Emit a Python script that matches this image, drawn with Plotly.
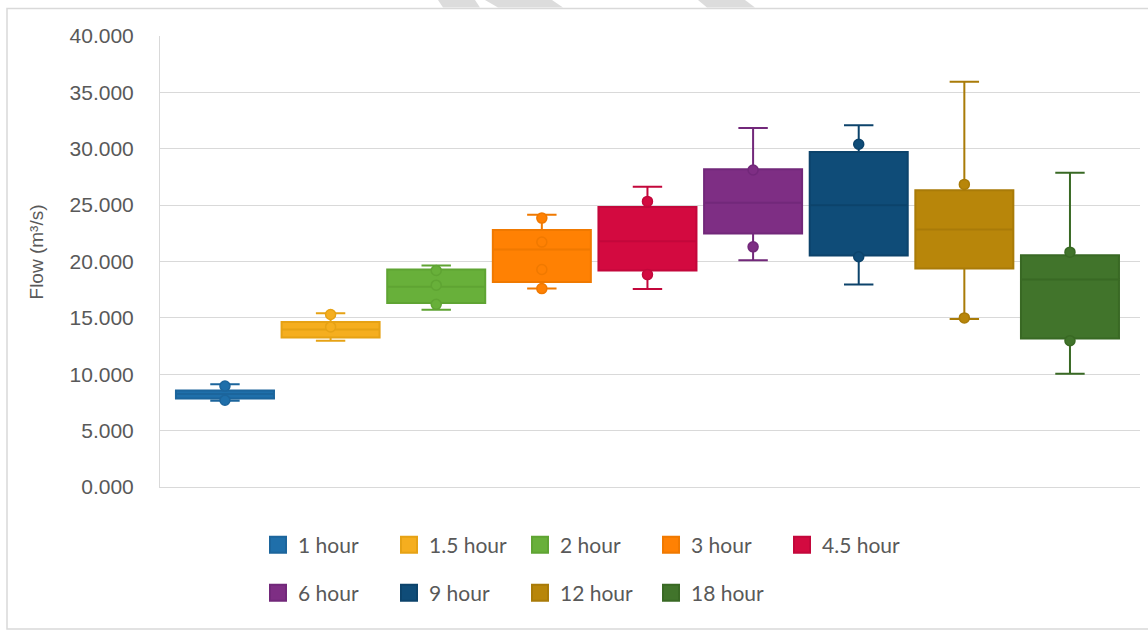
import plotly.graph_objects as go

# Flow statistics per storm duration
durations = ["1 hour", "1.5 hour", "2 hour", "3 hour", "4.5 hour",
             "6 hour", "9 hour", "12 hour", "18 hour"]
q1 =          [7.85, 13.27, 16.33, 18.19, 19.20, 22.49, 20.53, 19.38, 13.16]
median =      [8.25, 13.96, 17.75, 21.07, 21.80, 25.20, 25.00, 22.84, 18.40]
q3 =          [8.55, 14.64, 19.29, 22.79, 24.83, 28.18, 29.72, 26.31, 20.56]
lower_fence = [7.65, 12.98, 15.73, 17.60, 17.57, 20.12, 17.96, 14.90, 10.04]
upper_fence = [9.12, 15.41, 19.64, 24.15, 26.64, 31.85, 32.09, 35.94, 27.88]
inner_points = [
    [8.95, 7.70],
    [15.30, 14.20],
    [19.20, 17.90, 16.20],
    [23.85, 21.72, 19.29, 17.60],
    [25.33, 18.84],
    [28.12, 21.30],
    [30.40, 20.42],
    [26.84, 15.00],
    [20.83, 12.98],
]

fill_colors = ["#1F6FAA", "#F5AE1F", "#68B03A", "#FF8103", "#D30A40",
               "#7E2E84", "#0F4C78", "#B8860A", "#41742B"]
line_colors = ["#1C659C", "#E6A215", "#5FA433", "#F07900", "#C3073B",
               "#72287A", "#0C436B", "#A97B08", "#396924"]

fig = go.Figure()

for i, name in enumerate(durations):
    fig.add_trace(go.Box(
        x=[i], q1=[q1[i]], median=[median[i]], q3=[q3[i]],
        lowerfence=[lower_fence[i]], upperfence=[upper_fence[i]],
        name=name, legendgroup=name, showlegend=False,
        fillcolor=fill_colors[i],
        line=dict(color=line_colors[i], width=2),
        width=0.928, whiskerwidth=0.3,
        boxpoints=False, hoverinfo="y",
    ))
    fig.add_trace(go.Scatter(
        x=[i] * len(inner_points[i]), y=inner_points[i],
        mode="markers", legendgroup=name, showlegend=False,
        marker=dict(size=10, color=fill_colors[i],
                    line=dict(color=line_colors[i], width=1.5)),
        hoverinfo="y",
    ))

# Legend entries: square swatches, split over two rows
for i, name in enumerate(durations):
    fig.add_trace(go.Scatter(
        x=[None], y=[None], mode="markers", name=name, legendgroup=name,
        legend="legend" if i < 5 else "legend2",
        marker=dict(symbol="square", size=16, color=fill_colors[i],
                    line=dict(color=line_colors[i], width=2)),
    ))

L, R, T, B = 160, 8, 36, 145
W, H = 1148, 632
pw, ph = W - L - R, H - T - B


def px_x(px):
    return (px - L) / pw


def px_y(py):
    return (H - B - py) / ph


legend_style = dict(
    orientation="h", xanchor="left", yanchor="middle",
    font=dict(family="Lato", size=21, color="#595959"),
    entrywidth=86, entrywidthmode="pixels",
    bgcolor="rgba(0,0,0,0)", itemclick="toggle",
)

# Light grey diagonal bands along the top edge
bands = [
    [(438, 0), (475, 0), (480, 7.5), (443, 7.5)],
    [(485, 0), (552, 0), (563, 7.5), (498, 7.5)],
    [(698, 0), (745, 0), (755, 7.5), (707, 7.5)],
]
shapes = []
for band in bands:
    path = "M " + " L ".join(f"{px_x(a):.5f},{px_y(b):.5f}" for a, b in band) + " Z"
    shapes.append(dict(type="path", xref="paper", yref="paper", path=path,
                       fillcolor="#DCDCDC", line=dict(width=0), layer="above"))
# Chart frame
shapes.append(dict(type="rect", xref="paper", yref="paper",
                   x0=px_x(7), x1=px_x(1160), y0=px_y(629), y1=px_y(8.5),
                   line=dict(color="#D9D9D9", width=1.5), layer="below"))

fig.update_layout(
    width=W, height=H,
    margin=dict(l=L, r=R, t=T, b=B, pad=0),
    paper_bgcolor="white", plot_bgcolor="white",
    showlegend=True,
    legend=dict(x=px_x(258), y=px_y(545), **legend_style),
    legend2=dict(x=px_x(258), y=px_y(593), **legend_style),
    shapes=shapes,
    xaxis=dict(range=[-0.615, 8.663], showticklabels=False, showgrid=False,
               zeroline=False, showline=True, linecolor="#D9D9D9", linewidth=1,
               fixedrange=True),
    yaxis=dict(range=[0, 40], dtick=5, tickformat=".3f",
               showgrid=True, gridcolor="#D9D9D9", gridwidth=1,
               zeroline=False, showline=True, linecolor="#D9D9D9", linewidth=1,
               ticks="", ticklabelstandoff=21,
               tickfont=dict(family="Liberation Sans", size=21, color="#595959")),
    annotations=[dict(
        text="Flow (m³/s)", xref="paper", yref="paper",
        x=px_x(36), y=0.52, xanchor="center", yanchor="middle",
        textangle=-90, showarrow=False,
        font=dict(family="Liberation Sans", size=19, color="#595959"),
    )],
)

fig.write_html("out.html")
